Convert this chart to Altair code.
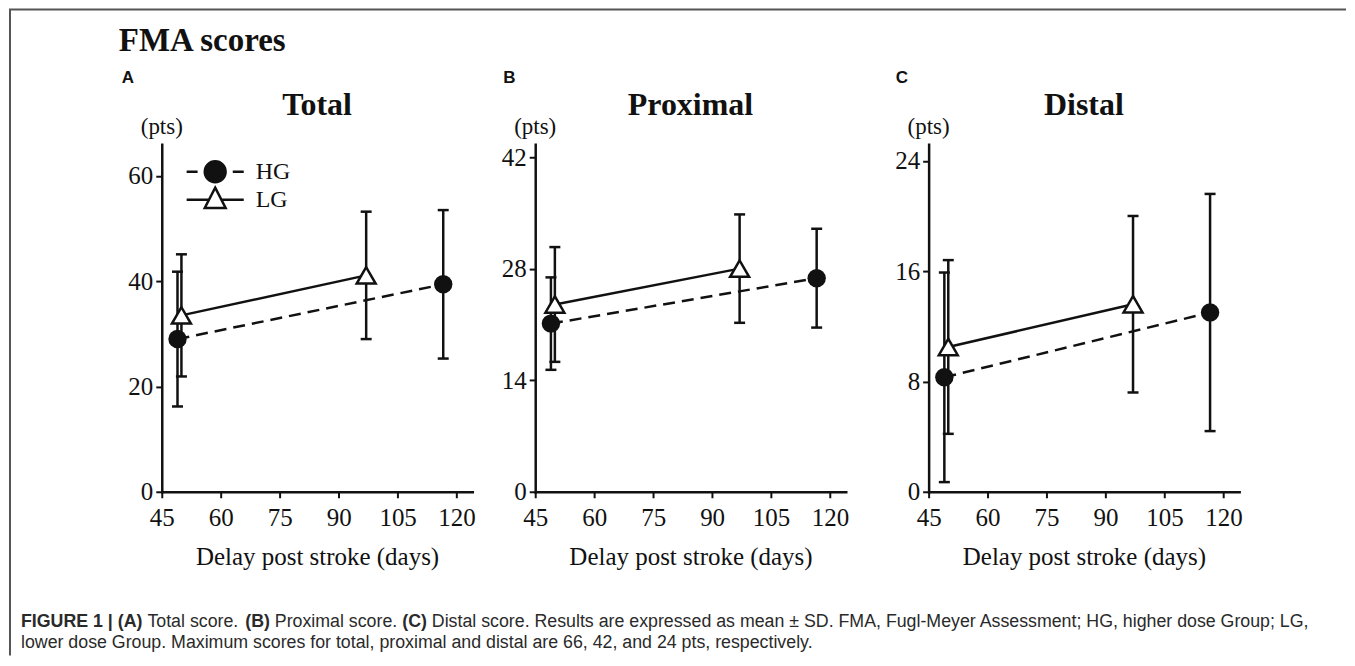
import altair as alt
import pandas as pd

# ---------------- data ----------------
groups = ["HG", "LG"]
hg_days = [49, 116.6]
lg_days = [50, 97]

total_hg_mean = [29.0, 39.4]
total_hg_sd = [12.8, 14.1]
total_lg_mean = [33.5, 41.1]
total_lg_sd = [11.6, 12.1]

prox_hg_mean = [21.1, 26.8]
prox_hg_sd = [5.8, 6.2]
prox_lg_mean = [23.5, 28.0]
prox_lg_sd = [7.2, 6.8]

dist_hg_mean = [8.3, 13.0]
dist_hg_sd = [7.6, 8.6]
dist_lg_mean = [10.5, 13.6]
dist_lg_sd = [6.3, 6.4]

panel_titles = ["Total", "Proximal", "Distal"]
panel_letters = ["A", "B", "C"]
y_max = [66, 43.6, 25.2]
y_ticks = [[0, 20, 40, 60], [0, 14, 28, 42], [0, 8, 16, 24]]
x_ticks = [45, 60, 75, 90, 105, 120]
x_domain = [45, 124]

caption_line2 = ("lower dose Group. Maximum scores for total, proximal and distal "
                 "are 66, 42, and 24 pts, respectively.")

INK = "#111111"
SERIF = "Liberation Serif"
SANS = "Liberation Sans"
W, H = 311, 348

HG_PATH = ("M-2.6,0L-1.6,0M1.6,0L2.6,0M0.95,0A0.95,0.95,0,1,1,-0.95,0"
           "A0.95,0.95,0,1,1,0.95,0Z")
LG_PATH = "M-2.6,0L-0.565,0M0.565,0L2.6,0M0,-1.1L0.95,0.75L-0.95,0.75Z"


def make_df(hg_mean, hg_sd, lg_mean, lg_sd):
    rows = []
    for g, days, m, s in [("HG", hg_days, hg_mean, hg_sd),
                          ("LG", lg_days, lg_mean, lg_sd)]:
        for d, mm, ss in zip(days, m, s):
            rows.append({"group": g, "day": d, "mean": mm,
                         "lo": mm - ss, "hi": mm + ss})
    return pd.DataFrame(rows)


def label(txt, x, y, size, weight="normal", font=SERIF, align="left", color=INK):
    return alt.Chart(pd.DataFrame({"t": [txt]})).mark_text(
        align=align, baseline="alphabetic", font=font, fontSize=size,
        fontWeight=weight, color=color
    ).encode(text="t:N", x=alt.value(x), y=alt.value(y))


def panel(df, i, extra=()):
    xs = alt.Scale(domain=x_domain, nice=False, zero=False)
    ys = alt.Scale(domain=[0, y_max[i]], nice=False)
    xax = alt.Axis(values=x_ticks, title="Delay post stroke (days)", grid=False,
                   domainColor=INK, domainWidth=2.5, domainCap="square",
                   tickColor=INK, tickWidth=2, tickSize=6,
                   labelFont=SERIF, labelFontSize=25, labelColor=INK,
                   labelPadding=8, labelOverlap=False, labelFlush=False,
                   titleFont=SERIF, titleFontSize=25, titleFontWeight="normal",
                   titleColor=INK, titleY=73, titleBaseline="alphabetic")
    yax = alt.Axis(values=y_ticks[i], title=None, grid=False,
                   domainColor=INK, domainWidth=2.5, domainCap="square",
                   tickColor=INK, tickWidth=2, tickSize=6,
                   labelFont=SERIF, labelFontSize=25, labelColor=INK,
                   labelPadding=3, labelOverlap=False, labelFlush=False)

    def X():
        return alt.X("day:Q", scale=xs, axis=xax)

    def Y(f):
        return alt.Y(f, scale=ys, axis=yax)

    base = alt.Chart(df)
    err = base.mark_rule(color=INK, strokeWidth=2.5).encode(
        x=X(), y=Y("lo:Q"), y2="hi:Q")
    caps = base.transform_fold(["lo", "hi"], as_=["end", "val"]).mark_tick(
        orient="horizontal", size=11, thickness=2.5, color=INK, opacity=1
    ).encode(x=X(), y=Y("val:Q"))
    hg_line = base.transform_filter("datum.group == 'HG'").mark_line(
        color=INK, strokeWidth=2.5, strokeDash=[12, 7]
    ).encode(x=X(), y=Y("mean:Q"))
    lg_line = base.transform_filter("datum.group == 'LG'").mark_line(
        color=INK, strokeWidth=2.5
    ).encode(x=X(), y=Y("mean:Q"))
    hg_pts = base.transform_filter("datum.group == 'HG'").mark_point(
        shape="circle", filled=True, size=340, color=INK, opacity=1
    ).encode(x=X(), y=Y("mean:Q"))
    lg_pts = base.transform_filter("datum.group == 'LG'").mark_point(
        shape="triangle-up", filled=True, fill="white", stroke=INK,
        strokeWidth=2.5, size=360, opacity=1
    ).encode(x=X(), y=Y("mean:Q"))

    texts = [
        label(panel_letters[i], [-40, -32, -33][i], -61, 17, "bold", SANS),
        label(panel_titles[i], W / 2, -29, 32, "bold", SERIF, "center"),
        label("(pts)", 0, -10, 23, "normal", SERIF, "center"),
    ]
    return alt.layer(err, caps, hg_line, lg_line, hg_pts, lg_pts,
                     *extra, *texts).properties(width=W, height=H)


df_total = make_df(total_hg_mean, total_hg_sd, total_lg_mean, total_lg_sd)
df_prox = make_df(prox_hg_mean, prox_hg_sd, prox_lg_mean, prox_lg_sd)
df_dist = make_df(dist_hg_mean, dist_hg_sd, dist_lg_mean, dist_lg_sd)

# legend (panel A), drawn by Vega-Lite from the group field
leg = alt.Legend(orient="none", legendX=41, legendY=15, padding=0, offset=0,
                 title=None, labelFont=SERIF, labelFontSize=24, labelColor=INK,
                 labelOffset=28, rowPadding=-5, symbolSize=484,
                 symbolStrokeWidth=2.5, symbolStrokeColor=INK,
                 symbolFillColor=INK, symbolOpacity=1)
legend_layer = alt.Chart(df_total).mark_point(
    filled=False, opacity=0, stroke=INK, strokeWidth=2.5
).encode(
    x=alt.X("day:Q", scale=alt.Scale(domain=x_domain, nice=False, zero=False)),
    y=alt.Y("mean:Q"),
    shape=alt.Shape("group:N", scale=alt.Scale(domain=groups, range=[HG_PATH, LG_PATH]),
                    legend=leg),
    fill=alt.Fill("group:N", scale=alt.Scale(domain=groups, range=[INK, "white"]),
                  legend=leg),
)

one = pd.DataFrame({"k": [0]})
frame_left = alt.Chart(one).mark_rule(color="#555555", strokeWidth=2).encode(
    x=alt.value(-152), y=alt.value(-135), y2=alt.value(512))
frame_top = alt.Chart(one).mark_rule(color="#555555", strokeWidth=2).encode(
    x=alt.value(-153), x2=alt.value(1186), y=alt.value(-135))

f = 17.8
x0 = -141
CAP = "#2a2a2a"
caption = [
    label("FIGURE 1 | (A)", x0, 483, f, "bold", SANS, color=CAP),
    label("Total score.", x0 + 7.114 * f, 483, f, "normal", SANS, color=CAP),
    label("(B)", x0 + 12.616 * f, 483, f, "bold", SANS, color=CAP),
    label("Proximal score.", x0 + 14.282 * f, 483, f, "normal", SANS, color=CAP),
    label("(C)", x0 + 21.450 * f, 483, f, "bold", SANS, color=CAP),
    label("Distal score. Results are expressed as mean \u00b1 SD. FMA, Fugl-Meyer "
          "Assessment; HG, higher dose Group; LG,", x0 + 23.116 * f, 483, f,
          "normal", SANS, color=CAP),
    label(caption_line2, x0, 504, f, "normal", SANS, color=CAP),
]

extra_a = [legend_layer, frame_left, frame_top,
           label("FMA scores", -43, -93, 33, "bold", SERIF), *caption]

pa = panel(df_total, 0, extra_a)
pb = panel(df_prox, 1)
pc = panel(df_dist, 2)

chart = alt.hconcat(
    pa,
    alt.hconcat(pb, pc, spacing=83, bounds="flush"),
    spacing=63, bounds="flush",
).properties(padding=0, background="white").configure_view(strokeWidth=0)

chart.save("out.html", embed_options={"renderer": "svg", "actions": False})
